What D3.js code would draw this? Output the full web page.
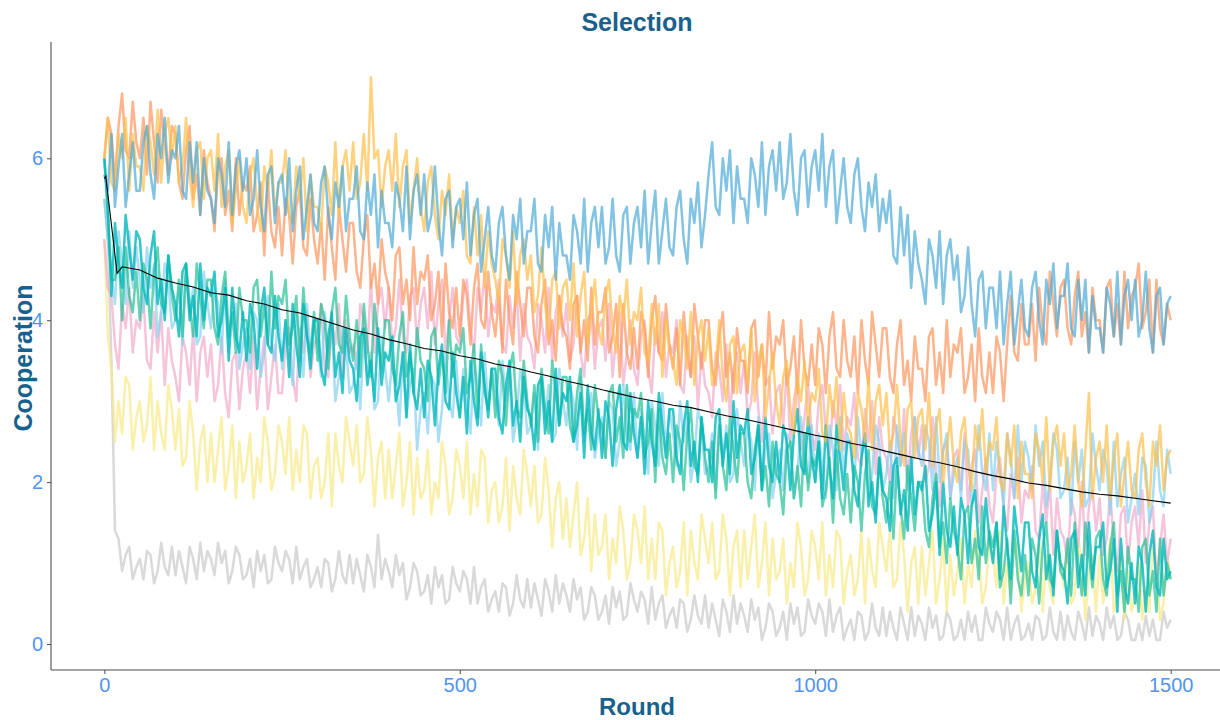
<!DOCTYPE html>
<html><head><meta charset="utf-8">
<script src="https://cdn.jsdelivr.net/npm/d3@7"></script>
<style>body{margin:0;background:#fff}text{font-family:Arial,"Liberation Sans",sans-serif}</style>
</head><body>
<svg id="chart" width="1220" height="720"></svg>
<script>
// Each series: one value every 5 rounds (0..1500), 10 values per row = 50 rounds
const step = 5;
const xTicks = [0, 500, 1000, 1500];
const yTicks = [0, 2, 4, 6];

const blueVals = [
5.8,5.6,6.3,5.4,5.9,6.3,5.4,5.8,6.2,5.6, 5.6,6.2,6.4,5.8,5.5,6.3,6.0,6.5,5.7,6.1,
6.0,6.4,5.6,5.5,6.2,5.7,6.2,5.3,6.0,5.6, 5.5,5.2,6.0,5.8,5.4,6.2,5.3,5.9,6.1,5.6,
6.0,5.3,5.5,6.1,5.4,5.1,5.8,5.9,5.2,5.7, 5.8,5.3,6.0,5.1,5.6,5.9,5.0,5.4,5.8,5.2,
5.1,5.7,5.9,5.3,5.0,5.7,5.4,5.9,5.1,5.5, 5.5,5.9,5.1,5.0,5.7,5.3,5.8,4.9,5.6,5.2,
5.2,4.9,5.7,5.5,5.1,5.9,5.0,5.6,5.8,5.3, 5.8,5.1,5.3,5.9,5.2,4.8,5.5,5.6,4.9,5.4,
5.5,5.0,5.7,4.8,5.3,5.5,4.6,5.0,5.4,4.8, 4.6,5.2,5.4,4.8,4.5,5.3,5.0,5.5,4.7,5.1,
5.1,5.5,4.7,4.6,5.3,4.9,5.4,4.5,5.2,4.8, 4.8,4.5,5.3,5.1,4.7,5.5,4.6,5.2,5.4,4.9,
5.4,4.7,4.9,5.5,4.8,4.6,5.3,5.4,4.7,5.2, 5.4,4.9,5.6,4.7,5.2,5.6,4.7,5.1,5.5,4.9,
4.8,5.4,5.6,5.0,4.7,5.5,5.2,5.7,4.9,5.3, 5.8,6.2,5.4,5.3,6.0,5.6,6.1,5.2,5.9,5.5,
5.5,5.2,6.0,5.8,5.4,6.2,5.3,5.9,6.1,5.6, 6.2,5.5,5.7,6.3,5.6,5.3,6.0,6.1,5.4,5.9,
6.1,5.6,6.3,5.4,5.9,6.1,5.2,5.6,6.0,5.4, 5.2,5.8,6.0,5.4,5.1,5.7,5.4,5.8,5.1,5.5,
5.2,5.6,4.8,4.7,5.4,4.8,5.3,4.4,5.1,4.7, 4.5,4.2,5.0,4.8,4.4,5.1,4.2,4.8,5.0,4.5,
4.8,4.1,4.3,4.9,4.2,3.8,4.5,4.6,3.9,4.4, 4.4,3.9,4.6,3.7,4.2,4.6,3.7,4.1,4.5,3.9,
3.8,4.4,4.6,4.0,3.7,4.5,4.2,4.7,3.9,4.3, 4.3,4.7,3.9,3.8,4.5,4.0,4.5,3.6,4.3,3.9,
3.9,3.6,4.4,4.2,3.8,4.6,3.7,4.3,4.5,4.0, 4.5,3.8,4.0,4.6,3.9,3.6,4.3,4.4,3.7,4.2,
4.3];
const goldVals = [
6.0,6.5,5.7,5.6,6.3,6.0,6.5,5.6,6.3,5.9, 5.9,5.6,6.4,6.2,5.8,6.6,5.7,6.3,6.5,6.0,
6.4,5.7,5.9,6.5,5.8,5.4,6.1,6.2,5.5,6.0, 6.1,5.6,6.3,5.4,5.9,6.1,5.2,5.6,6.0,5.4,
5.2,5.8,6.0,5.4,5.1,5.9,5.6,6.1,5.3,5.7, 5.7,6.1,5.3,5.2,5.9,5.5,6.0,5.1,5.8,5.4,
5.4,5.1,5.9,5.7,5.3,6.2,5.3,5.9,6.1,5.6, 6.2,5.5,5.7,6.3,5.6,7.0,6.0,6.1,5.4,5.9,
6.1,5.6,6.3,5.4,5.9,6.1,5.2,5.6,6.0,5.4, 5.1,5.7,5.9,5.3,5.0,5.6,5.3,5.8,5.0,5.4,
5.2,5.6,4.8,4.7,5.4,4.8,5.3,4.4,5.1,4.7, 4.5,4.2,5.0,4.8,4.4,5.1,4.2,4.8,5.0,4.5,
4.8,4.1,4.3,4.9,4.2,3.8,4.5,4.6,3.9,4.4, 4.5,4.0,4.7,3.8,4.3,4.6,3.7,4.1,4.5,3.9,
3.7,4.3,4.5,3.9,3.6,4.3,4.0,4.5,3.7,4.1, 4.0,4.4,3.6,3.5,4.2,3.7,4.2,3.3,4.0,3.6,
3.5,3.2,4.0,3.8,3.4,4.1,3.2,3.8,4.0,3.5, 3.9,3.2,3.4,4.0,3.3,3.0,3.7,3.8,3.1,3.6,
3.7,3.2,3.9,3.0,3.5,3.7,2.8,3.2,3.6,3.0, 2.7,3.3,3.5,2.9,2.6,3.3,3.0,3.5,2.7,3.1,
3.0,3.4,2.6,2.5,3.2,2.8,3.3,2.4,3.1,2.7, 2.6,2.3,3.1,2.9,2.5,3.3,2.4,3.0,3.2,2.7,
3.1,2.4,2.6,3.2,2.5,2.2,2.9,3.0,2.3,2.8, 2.9,2.4,3.1,2.2,2.7,2.9,2.0,2.4,2.8,2.2,
2.0,2.6,2.8,2.2,1.9,2.7,2.4,2.9,2.1,2.5, 2.4,2.8,2.0,1.9,2.6,2.2,2.7,1.8,2.5,2.1,
2.1,1.8,2.6,2.4,2.0,2.8,1.9,2.5,2.7,2.2, 2.6,1.9,2.1,2.7,2.0,1.7,2.4,3.1,1.8,2.3,
2.5,2.0,2.7,1.8,2.3,2.6,1.7,2.1,2.5,1.9, 1.8,2.4,2.6,2.0,1.7,2.5,2.2,2.7,1.9,2.3,
2.4];
const peachVals = [
6.0,6.5,6.3,5.7,6.4,6.8,6.1,6.0,6.7,6.2, 6.0,6.5,5.8,6.7,6.2,5.7,6.6,6.2,5.8,6.4,
6.3,5.7,5.5,6.1,6.4,5.5,5.8,5.3,6.1,5.7, 5.5,5.1,5.9,6.0,5.3,5.6,5.1,6.0,5.3,5.7,
5.6,5.9,5.1,5.3,5.7,4.8,5.7,5.1,4.9,5.4, 4.8,5.5,5.3,4.7,5.4,5.6,4.9,4.8,5.5,5.0,
4.7,5.2,4.5,5.4,4.9,4.5,5.4,5.0,4.6,5.2, 5.2,4.6,4.4,5.0,5.3,4.4,4.7,4.2,5.0,4.6,
4.4,4.0,4.8,4.9,4.2,4.5,4.0,4.9,4.2,4.6, 4.5,4.8,4.0,4.2,4.6,3.8,4.7,4.1,3.9,4.4,
3.8,4.5,4.3,3.7,4.4,4.7,4.0,3.9,4.6,4.1, 3.8,4.3,3.6,4.5,4.0,3.7,4.6,4.2,3.8,4.4,
4.4,3.8,3.6,4.2,4.5,3.7,4.0,3.5,4.3,3.9, 3.8,3.4,4.2,4.3,3.6,4.0,3.5,4.4,3.7,4.1,
4.1,4.4,3.6,3.8,4.2,3.3,4.2,3.6,3.4,3.9, 3.4,4.1,3.9,3.3,4.0,4.3,3.6,3.5,4.2,3.7,
3.4,3.9,3.2,4.1,3.6,3.3,4.2,3.8,3.4,4.0, 4.0,3.4,3.2,3.8,4.1,3.3,3.6,3.1,3.9,3.5,
3.5,3.1,3.9,4.0,3.3,3.7,3.2,4.1,3.4,3.8, 3.7,4.0,3.2,3.4,3.8,3.1,4.0,3.4,3.2,3.7,
3.2,3.9,3.7,3.1,3.8,4.1,3.4,3.3,4.0,3.5, 3.3,3.8,3.1,4.0,3.5,3.2,4.1,3.7,3.3,3.9,
3.9,3.3,3.1,3.7,4.0,3.2,3.5,3.0,3.8,3.4, 3.4,3.0,3.8,3.9,3.2,3.6,3.1,4.0,3.3,3.7,
3.6,3.9,3.1,3.3,3.7,3.0,3.9,3.3,3.1,3.6, 3.1,3.8,3.6,3.0,3.7,4.3,3.6,3.5,4.2,3.7,
3.7,4.2,3.5,4.4,3.9,3.7,4.6,4.2,3.8,4.4, 4.5,3.9,3.7,4.3,4.6,3.8,4.1,3.6,4.4,4.0,
4.0,3.6,4.4,4.5,3.8,4.2,3.7,4.6,3.9,4.3, 4.4,4.7,3.9,4.1,4.5,3.6,4.5,3.9,3.7,4.2,
4.0];
const pinkVals = [
5.0,4.4,4.3,3.7,3.4,4.2,3.9,4.4,3.6,4.0, 3.9,4.3,3.5,3.4,4.1,3.6,4.1,3.2,3.9,3.5,
3.3,3.0,3.8,3.6,3.2,3.9,3.0,3.6,3.8,3.3, 3.7,3.0,3.2,3.8,3.1,2.8,3.5,3.6,2.9,3.4,
3.6,3.1,3.8,2.9,3.4,3.8,2.9,3.3,3.7,3.1, 3.1,3.7,3.9,3.3,3.0,3.9,3.6,4.1,3.3,3.7,
3.8,4.2,3.4,3.3,4.0,3.7,4.2,3.3,4.0,3.6, 3.7,3.4,4.2,4.0,3.6,4.5,3.6,4.2,4.4,3.9,
4.4,3.7,3.9,4.5,3.8,3.6,4.3,4.4,3.7,4.2, 4.4,3.9,4.6,3.7,4.2,4.5,3.6,4.0,4.4,3.8,
3.7,4.3,4.5,3.9,3.6,4.4,4.1,4.6,3.8,4.2, 4.1,4.5,3.7,3.6,4.3,3.9,4.4,3.5,4.2,3.8,
3.7,3.4,4.2,4.0,3.6,4.4,3.5,4.1,4.3,3.8, 4.2,3.5,3.7,4.3,3.6,3.3,4.0,4.1,3.4,3.9,
4.0,3.5,4.2,3.3,3.8,4.1,3.2,3.6,4.0,3.4, 3.2,3.8,4.0,3.4,3.1,3.9,3.6,4.1,3.3,3.7,
3.6,4.0,3.2,3.1,3.8,3.3,3.8,2.9,3.6,3.2, 3.1,2.8,3.6,3.4,3.0,3.7,2.8,3.4,3.6,3.1,
3.5,2.8,3.0,3.6,2.9,2.5,3.2,3.3,2.6,3.1, 3.2,2.7,3.4,2.5,3.0,3.3,2.4,2.8,3.2,2.6,
2.4,3.0,3.2,2.6,2.3,3.0,2.7,3.2,2.4,2.8, 2.7,3.1,2.3,2.2,2.9,2.5,3.0,2.1,2.8,2.4,
2.3,2.0,2.8,2.6,2.2,2.9,2.0,2.6,2.8,2.3, 2.7,2.0,2.2,2.8,2.1,1.7,2.4,2.5,1.8,2.3,
2.4,1.9,2.6,1.7,2.2,2.4,1.5,1.9,2.3,1.7, 1.5,2.1,2.3,1.7,1.4,2.1,1.8,2.3,1.5,1.9,
1.8,2.2,1.4,1.3,2.0,1.5,2.0,1.1,1.8,1.4, 1.3,1.0,1.8,1.6,1.2,2.0,1.1,1.7,1.9,1.4,
1.8,1.1,1.3,1.9,1.2,0.9,1.6,1.7,1.0,1.5, 1.7,1.2,1.9,1.0,1.5,1.7,0.8,1.2,1.6,1.0,
1.3];
const tealVals = [
6.0,5.3,4.5,4.5,4.9,4.0,4.9,4.3,4.1,4.6, 4.0,4.7,4.5,3.9,4.6,4.9,4.2,4.1,4.8,4.3,
4.0,4.5,3.8,4.7,4.2,3.8,4.7,4.3,3.9,4.5, 4.5,3.9,3.7,4.3,4.6,3.8,4.1,3.6,4.4,4.0,
4.0,3.6,4.4,4.5,3.8,4.2,3.7,4.6,3.9,4.3, 4.2,4.5,3.7,3.9,4.3,3.5,4.4,3.8,3.6,4.1,
3.5,4.2,4.0,3.4,4.1,4.4,3.7,3.6,4.3,3.8, 3.5,4.0,3.3,4.2,3.7,3.3,4.2,3.8,3.4,4.0,
4.0,3.4,3.2,3.8,4.1,3.3,3.6,3.1,3.9,3.5, 3.4,3.0,3.8,3.9,3.2,3.6,3.1,4.0,3.3,3.7,
3.6,3.9,3.1,3.3,3.7,2.8,3.7,3.1,2.9,3.4, 2.8,3.5,3.3,2.7,3.4,3.6,2.9,2.8,3.5,3.0,
2.7,3.2,2.5,3.4,2.9,2.6,3.5,3.1,2.7,3.3, 3.3,2.7,2.5,3.1,3.4,2.6,2.9,2.4,3.2,2.8,
2.7,2.3,3.1,3.2,2.5,2.8,2.3,3.2,2.5,2.9, 2.8,3.1,2.3,2.5,2.9,2.0,2.9,2.3,2.1,2.6,
2.0,2.7,2.5,1.9,2.6,2.9,2.2,2.1,2.8,2.3, 2.0,2.5,1.8,2.7,2.2,1.9,2.8,2.4,2.0,2.6,
2.6,2.0,1.8,2.4,2.7,1.9,2.2,1.7,2.5,2.1, 2.0,1.6,2.4,2.5,1.8,2.2,1.7,2.6,1.9,2.3,
2.2,2.5,1.7,1.9,2.3,1.5,2.4,1.8,1.6,2.1, 1.5,2.2,2.0,1.4,2.1,2.4,1.7,1.6,2.3,1.8,
1.5,2.0,1.3,2.2,1.7,1.3,2.2,1.8,1.4,2.0, 2.0,1.4,1.2,1.8,2.1,1.2,1.5,1.0,1.8,1.4,
1.2,0.8,1.6,1.7,1.0,1.3,0.8,1.7,1.0,1.4, 1.2,1.5,0.7,0.9,1.3,0.5,1.4,0.8,0.6,1.1,
0.6,1.3,1.1,0.5,1.2,1.5,0.8,0.7,1.4,0.9, 0.8,1.3,0.6,1.5,1.0,0.6,1.5,1.1,0.7,1.3,
1.4,0.8,0.6,1.2,1.5,0.6,0.9,0.4,1.2,0.8, 0.8,0.4,1.2,1.3,0.6,0.9,0.4,1.3,0.6,1.0,
0.8];
const cyanVals = [
6.0,5.4,4.3,5.2,4.7,4.4,5.3,4.9,4.5,5.1, 5.0,4.4,4.2,4.8,5.1,4.2,4.5,4.0,4.8,4.4,
4.2,3.8,4.6,4.7,4.0,4.3,3.8,4.7,4.0,4.4, 4.3,4.6,3.8,4.0,4.4,3.5,4.4,3.8,3.6,4.1,
3.5,4.2,4.0,3.4,4.1,4.4,3.7,3.6,4.3,3.8, 3.5,4.0,3.3,4.2,3.7,3.3,4.2,3.8,3.4,4.0,
4.0,3.4,3.2,3.8,4.1,3.3,3.6,3.1,3.9,3.5, 3.4,3.0,3.8,3.9,3.2,3.5,3.0,3.9,3.2,3.6,
3.5,3.8,3.0,3.2,3.6,2.8,3.7,3.1,2.9,3.4, 2.8,3.5,3.3,2.7,3.4,3.7,3.0,2.9,3.6,3.1,
2.8,3.3,2.6,3.5,3.0,2.7,3.6,3.2,2.8,3.4, 3.4,2.8,2.6,3.2,3.5,2.7,3.0,2.5,3.3,2.9,
2.8,2.4,3.2,3.3,2.6,3.0,2.5,3.4,2.7,3.1, 3.0,3.3,2.5,2.7,3.1,2.3,3.2,2.6,2.4,2.9,
2.3,3.0,2.8,2.2,2.9,3.2,2.5,2.4,3.1,2.6, 2.3,2.8,2.1,3.0,2.5,2.2,3.1,2.7,2.3,2.9,
2.9,2.3,2.1,2.7,3.0,2.2,2.5,2.0,2.8,2.4, 2.4,2.0,2.8,2.9,2.2,2.6,2.1,3.0,2.3,2.7,
2.6,2.9,2.1,2.3,2.7,1.9,2.8,2.2,2.0,2.5, 2.0,2.7,2.5,1.9,2.6,2.9,2.2,2.1,2.8,2.3,
2.0,2.5,1.8,2.7,2.2,1.8,2.7,2.3,1.9,2.5, 2.5,1.9,1.7,2.3,2.6,1.7,2.0,1.5,2.3,1.9,
1.8,1.4,2.2,2.3,1.6,1.9,1.4,2.3,1.6,2.0, 1.9,2.2,1.4,1.6,2.0,1.1,2.0,1.4,1.2,1.7,
1.1,1.8,1.6,1.0,1.7,1.9,1.2,1.1,1.8,1.3, 1.0,1.5,0.8,1.7,1.2,0.8,1.7,1.3,0.9,1.5,
1.5,0.9,0.7,1.3,1.6,0.8,1.1,0.6,1.4,1.0, 0.9,0.5,1.3,1.4,0.7,1.1,0.6,1.5,0.8,1.2,
1.2,1.5,0.7,0.9,1.3,0.4,1.3,0.7,0.5,1.0, 0.5,1.2,1.0,0.4,1.1,1.4,0.7,0.6,1.3,0.8,
0.9];
const skyVals = [
5.5,5.0,4.6,4.2,5.1,4.7,4.2,5.1,4.4,4.9, 4.5,4.1,4.9,4.4,4.7,3.8,4.1,4.7,4.5,3.9,
4.0,4.4,3.7,4.6,4.1,4.4,3.7,3.8,4.6,4.2, 3.9,4.4,4.2,3.6,4.5,3.6,4.0,4.2,3.4,3.7,
3.9,3.4,4.1,4.0,3.3,3.6,4.3,3.7,3.5,4.2, 3.4,4.0,3.6,3.2,4.1,3.8,3.3,4.2,3.5,4.0,
3.7,3.3,4.1,3.6,3.9,3.0,3.3,3.9,3.7,3.1, 3.2,3.6,2.9,3.8,3.3,3.6,2.9,3.0,3.8,3.4,
3.0,3.5,3.3,2.7,3.6,2.8,3.2,3.4,2.4,2.9, 3.1,2.6,3.3,3.2,2.5,2.9,3.6,3.0,2.8,3.5,
2.8,3.4,3.0,2.6,3.5,3.2,2.7,3.6,2.9,3.4, 3.1,2.7,3.5,3.0,3.3,2.5,2.8,3.4,3.2,2.6,
2.7,3.1,2.4,3.3,2.8,3.2,2.5,2.6,3.4,3.0, 2.7,3.2,3.0,2.4,3.3,2.5,2.9,3.1,2.3,2.6,
2.8,2.3,3.0,2.9,2.2,2.5,3.2,2.6,2.4,3.1, 2.3,2.9,2.5,2.1,3.0,2.7,2.2,3.1,2.4,2.9,
2.6,2.2,3.0,2.5,2.8,2.0,2.3,2.9,2.7,2.1, 2.2,2.6,1.9,2.8,2.3,2.7,2.0,2.1,2.9,2.5,
2.2,2.7,2.5,1.9,2.8,2.0,2.4,2.6,1.8,2.1, 2.4,1.9,2.6,2.5,1.8,2.1,2.8,2.2,2.0,2.7,
2.0,2.6,2.2,1.8,2.7,2.4,1.9,2.8,2.1,2.6, 2.4,2.0,2.8,2.3,2.6,1.8,2.1,2.7,2.5,1.9,
2.1,2.5,1.8,2.7,2.2,2.6,1.9,2.0,2.8,2.4, 2.2,2.7,2.5,1.9,2.8,2.0,2.4,2.6,1.8,2.1,
2.3,1.8,2.5,2.4,1.7,2.0,2.7,2.1,1.9,2.6, 1.9,2.5,2.1,1.7,2.6,2.3,1.8,2.7,2.0,2.5,
2.3,1.9,2.7,2.2,2.5,1.7,2.0,2.6,2.4,1.8, 1.9,2.3,1.6,2.5,2.0,2.4,1.7,1.8,2.6,2.2,
1.9,2.4,2.2,1.6,2.5,1.7,2.1,2.3,1.5,1.8, 2.1,1.6,2.3,2.2,1.5,1.8,2.5,1.9,1.7,2.4,
2.1];
const yellowVals = [
5.0,3.8,3.4,2.5,3.0,2.6,3.3,3.2,2.4,2.8, 3.0,2.5,2.7,3.3,2.4,3.0,2.6,2.4,3.2,2.9,
2.4,2.9,2.2,2.3,3.0,2.6,1.9,2.5,2.7,2.0, 2.6,2.0,2.4,2.8,1.9,2.2,2.7,1.8,2.5,2.0,
2.2,2.6,1.8,2.3,2.0,2.8,2.5,1.9,2.1,2.7, 2.5,2.1,2.8,1.9,2.4,2.0,2.7,2.6,1.8,2.2,
2.3,1.8,2.0,2.6,1.7,2.6,2.2,2.0,2.8,2.5, 2.2,2.7,2.0,2.1,2.8,2.4,1.7,2.3,2.5,1.8,
2.4,1.8,2.2,2.6,1.7,2.0,2.5,1.6,2.3,1.8, 1.9,2.4,1.6,2.0,1.8,2.5,2.2,1.6,1.8,2.4,
2.2,1.8,2.5,1.6,2.1,1.7,2.4,2.3,1.5,1.9, 2.0,1.5,1.7,2.3,1.4,2.2,1.8,1.6,2.4,2.1,
1.7,2.2,1.5,1.6,2.3,1.9,1.2,1.8,2.0,1.3, 1.8,1.2,1.6,2.0,1.1,1.3,1.8,0.9,1.6,1.1,
1.2,1.6,0.8,1.3,1.0,1.7,1.4,0.8,1.0,1.6, 1.4,1.0,1.7,0.8,1.3,0.8,1.5,1.4,0.6,1.0,
1.2,0.7,0.9,1.5,0.6,1.4,1.0,0.8,1.6,1.3, 1.0,1.5,0.8,0.9,1.6,1.3,0.6,1.2,1.4,0.7,
1.4,0.8,1.2,1.6,0.7,1.0,1.5,0.6,1.3,0.8, 0.9,1.3,0.5,1.0,0.7,1.5,1.2,0.6,0.8,1.4,
1.2,0.8,1.5,0.6,1.1,0.7,1.4,1.3,0.5,0.9, 1.1,0.6,0.8,1.4,0.5,1.3,0.9,0.7,1.5,1.2,
0.9,1.4,0.7,0.8,1.5,1.1,0.4,1.0,1.2,0.5, 1.2,0.6,1.0,1.4,0.5,0.8,1.3,0.4,1.1,0.6,
0.9,1.3,0.5,1.0,0.7,1.4,1.1,0.5,0.7,1.3, 1.1,0.7,1.4,0.5,1.0,0.6,1.3,1.2,0.4,0.8,
1.0,0.5,0.7,1.3,0.4,1.1,0.7,0.5,1.3,1.0, 0.7,1.2,0.5,0.6,1.3,1.0,0.3,0.9,1.1,0.4,
1.1,0.5,0.9,1.3,0.4,0.6,1.1,0.3,0.9,0.4, 0.6,1.0,0.3,0.7,0.4,1.2,0.9,0.3,0.5,1.1,
0.8];
const grayVals = [
5.5,5.0,3.5,1.4,1.3,0.9,1.1,1.2,0.8,0.95, 1.05,0.8,1.15,1.1,0.75,0.9,1.25,0.95,0.85,1.2,
0.85,1.15,0.95,0.75,1.2,1.05,0.8,1.25,0.9,1.15, 1.05,0.85,1.25,1.0,1.15,0.75,0.9,1.2,1.1,0.8,
0.85,1.05,0.7,1.15,0.9,1.1,0.75,0.8,1.2,1.0, 0.9,1.15,1.05,0.75,1.2,0.8,0.95,1.05,0.7,0.8,
0.95,0.7,1.05,1.0,0.65,0.8,1.15,0.85,0.75,1.1, 0.75,1.05,0.85,0.65,1.1,0.95,0.7,1.35,0.8,1.05,
0.9,0.7,1.1,0.85,1.0,0.55,0.7,1.0,0.9,0.6, 0.65,0.85,0.5,0.95,0.7,0.85,0.5,0.55,0.95,0.75,
0.65,0.9,0.8,0.5,0.95,0.5,0.7,0.8,0.4,0.55, 0.65,0.4,0.75,0.7,0.35,0.5,0.85,0.55,0.45,0.8,
0.45,0.75,0.55,0.35,0.8,0.65,0.4,0.85,0.5,0.75, 0.6,0.4,0.8,0.55,0.7,0.3,0.4,0.7,0.6,0.3,
0.4,0.6,0.25,0.7,0.45,0.65,0.3,0.35,0.75,0.55, 0.4,0.65,0.55,0.25,0.7,0.3,0.5,0.6,0.2,0.35,
0.45,0.2,0.55,0.5,0.15,0.3,0.6,0.35,0.25,0.6, 0.2,0.5,0.3,0.1,0.55,0.4,0.15,0.6,0.25,0.5,
0.35,0.15,0.55,0.3,0.45,0.05,0.2,0.5,0.4,0.1, 0.2,0.4,0.05,0.5,0.25,0.45,0.1,0.15,0.55,0.35,
0.25,0.5,0.4,0.1,0.55,0.15,0.35,0.45,0.05,0.2, 0.3,0.05,0.4,0.35,0.05,0.15,0.5,0.2,0.1,0.45,
0.1,0.4,0.2,0.05,0.45,0.25,0.05,0.45,0.1,0.35, 0.25,0.05,0.45,0.2,0.35,0.05,0.1,0.4,0.3,0.05,
0.1,0.3,0.05,0.4,0.15,0.35,0.05,0.05,0.45,0.25, 0.15,0.4,0.3,0.05,0.45,0.05,0.25,0.35,0.05,0.1,
0.25,0.05,0.35,0.3,0.05,0.1,0.45,0.15,0.05,0.4, 0.05,0.35,0.15,0.05,0.4,0.25,0.05,0.45,0.1,0.35,
0.25,0.05,0.45,0.2,0.35,0.05,0.1,0.4,0.3,0.05, 0.05,0.25,0.05,0.35,0.1,0.3,0.05,0.05,0.4,0.2,
0.3];

// Mean line (across runs)
const meanRounds = [0,2,18].concat(d3.range(25, 1501, 25));
const meanVals = [5.75,5.78,4.58,
 4.66,4.62,4.52,4.46,4.41,4.34,4.31,4.24,4.20,4.13,4.09,4.02,3.95,3.88,3.83,3.76,3.71,3.65,3.62,3.56,
 3.52,3.46,3.42,3.36,3.31,3.25,3.20,3.14,3.09,3.04,3.00,2.95,2.92,2.87,2.82,2.78,2.73,2.68,2.63,2.58,
 2.54,2.48,2.44,2.38,2.33,2.28,2.24,2.19,2.13,2.08,2.04,1.99,1.96,1.92,1.88,1.85,1.83,1.80,1.77,1.74];

const seriesNames  = ["gray","yellow","pink","sky","teal","cyan","peach","gold","blue"];
const seriesColors = ["#c9c9c9","#f8ea86","#f2abca","#86d0f1","#22bf94","#00b8bb","#ff945b","#ffbf48","#4ba9d6"];
const seriesOpac   = [0.7,0.7,0.7,0.7,0.7,0.8,0.7,0.7,0.7];
const seriesData   = [grayVals,yellowVals,pinkVals,skyVals,tealVals,cyanVals,peachVals,goldVals,blueVals];

const svg = d3.select("#chart");
const x = d3.scaleLinear().domain([-75, 1575]).range([51, 1224]);
const y = d3.scaleLinear().domain([-0.321, 7.437]).range([670, 42]);

const line = d3.line().x((d, i) => x(i * step)).y(d => y(d));

const g = svg.append("g");
seriesData.forEach((vals, k) => {
  g.append("path").datum(vals)
    .attr("d", line)
    .attr("fill", "none")
    .attr("stroke", seriesColors[k])
    .attr("stroke-opacity", seriesOpac[k])
    .attr("stroke-width", 2.5)
    .attr("stroke-linejoin", "round");
});

const meanLine = d3.line().x((d, i) => x(meanRounds[i])).y(d => y(d));
g.append("path").datum(meanVals).attr("d", meanLine)
  .attr("fill", "none").attr("stroke", "#000").attr("stroke-width", 1.1);

// Axes
const tickColor = "#4f95f0";
const xAxis = svg.append("g").attr("transform", "translate(0,670)")
  .call(d3.axisBottom(x).tickValues(xTicks).tickSize(4).tickPadding(4).tickFormat(d3.format("d")));
const yAxis = svg.append("g").attr("transform", "translate(51,0)")
  .call(d3.axisLeft(y).tickValues(yTicks).tickSize(4).tickPadding(4));
[xAxis, yAxis].forEach(a => {
  a.select(".domain").attr("stroke", "#4d4d4d").attr("stroke-width", 1.1);
  a.selectAll(".tick line").attr("stroke", "#4d4d4d");
  a.selectAll(".tick text").attr("fill", tickColor).attr("font-size", 20)
    .attr("font-family", "Arial, 'Liberation Sans', sans-serif");
});
xAxis.select(".domain").attr("d", "M51,0H1220");
yAxis.select(".domain").attr("d", "M0,42V670");

const titleColor = "#17618c";
svg.append("text").attr("x", 637).attr("y", 31).attr("text-anchor", "middle")
  .attr("font-size", 25).attr("font-weight", "bold").attr("fill", titleColor).text("Selection");
svg.append("text").attr("x", 637).attr("y", 715).attr("text-anchor", "middle")
  .attr("font-size", 24).attr("font-weight", "bold").attr("fill", titleColor).text("Round");
svg.append("text").attr("transform", "translate(32,358) rotate(-90)").attr("text-anchor", "middle")
  .attr("font-size", 25).attr("font-weight", "bold").attr("fill", titleColor).text("Cooperation");
</script>
</body></html>
